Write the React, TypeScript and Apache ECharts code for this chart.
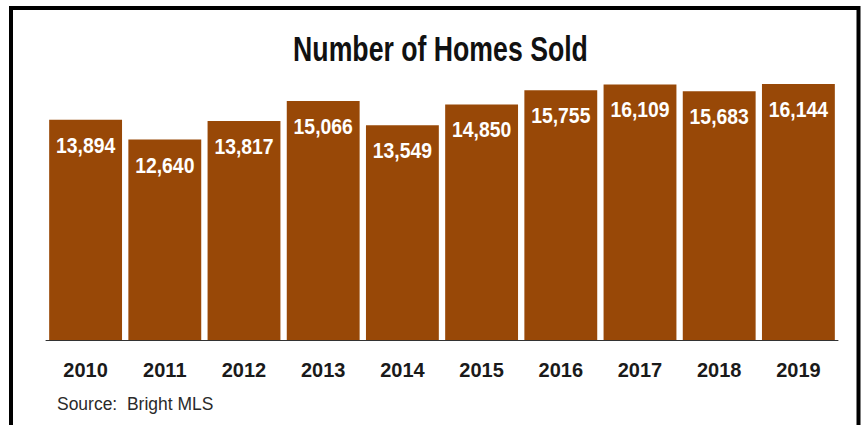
import React, { useEffect, useRef } from "react";
import * as echarts from "echarts";

const years = ["2010", "2011", "2012", "2013", "2014", "2015", "2016", "2017", "2018", "2019"];
const homesSold = [13894, 12640, 13817, 15066, 13549, 14850, 15755, 16109, 15683, 16144];
const titleText = "Number of Homes Sold";
const sourceText = "Source:  Bright MLS";

export default function App() {
  const ref = useRef<HTMLDivElement>(null);
  useEffect(() => {
    if (!ref.current) return;
    const chart = echarts.init(ref.current, null, { renderer: "svg" });
    chart.setOption({
      animation: false,
      backgroundColor: "#ffffff",
      grid: { left: 46, right: 24, top: 70.4, bottom: 85 },
      xAxis: {
        type: "category",
        data: years,
        axisLine: { lineStyle: { color: "#333333", width: 1 } },
        axisTick: { show: false },
        axisLabel: {
          color: "#1a1a1a",
          fontFamily: "'Liberation Sans', Arial, sans-serif",
          fontWeight: "bold",
          fontSize: 20,
          margin: 20,
        },
      },
      yAxis: {
        type: "value",
        min: 0,
        max: 17000,
        show: false,
        splitLine: { show: false },
      },
      series: [
        {
          type: "bar",
          data: homesSold,
          barCategoryGap: "8%",
          itemStyle: { color: "#984807" },
        },
        {
          type: "custom",
          data: homesSold.map((v, i) => [i, v]),
          z: 5,
          renderItem: (params: any, api: any) => {
            const v = api.value(1);
            const pt = api.coord([api.value(0), v]);
            return {
              type: "text",
              x: pt[0],
              y: pt[1] + 25,
              scaleX: 0.88,
              silent: true,
              style: {
                text: Number(v).toLocaleString("en-US"),
                fill: "#ffffff",
                font: "bold 22px 'Liberation Sans', Arial, sans-serif",
                textAlign: "center",
                textVerticalAlign: "middle",
              },
            };
          },
        },
      ],
      graphic: [
        {
          type: "rect",
          shape: { x: 11, y: 8, width: 847.5, height: 500 },
          style: { fill: "none", stroke: "#000000", lineWidth: 4 },
          silent: true,
        },
        {
          type: "text",
          x: 440.5,
          y: 49.5,
          scaleX: 0.762,
          style: {
            text: titleText,
            fill: "#111111",
            font: "bold 35px 'Liberation Sans', Arial, sans-serif",
            textAlign: "center",
            textVerticalAlign: "middle",
          },
        },
        {
          type: "text",
          x: 57,
          y: 403.7,
          scaleX: 0.92,
          style: {
            text: sourceText,
            fill: "#2a2a2a",
            font: "19px 'Liberation Sans', Arial, sans-serif",
            textVerticalAlign: "middle",
          },
        },
      ],
    });
    return () => chart.dispose();
  }, []);
  return (
    <div
      ref={ref}
      style={{ position: "fixed", left: 0, top: 0, width: 862, height: 425 }}
    />
  );
}
